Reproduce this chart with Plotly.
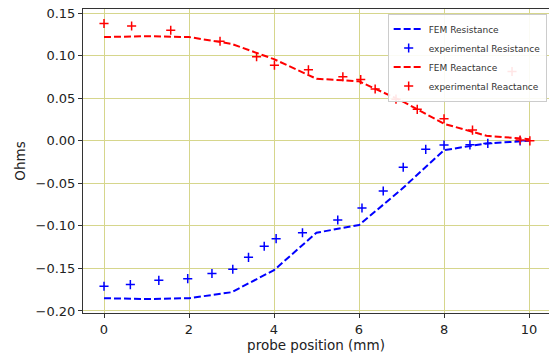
import plotly.graph_objects as go

# FEM simulation (integer positions)
fem_x = [0, 1, 2, 3, 4, 5, 6, 7, 8, 9, 10]
fem_resistance = [-0.185, -0.186, -0.185, -0.178, -0.152, -0.108, -0.099, -0.057, -0.011, -0.003, 0.0]
fem_reactance = [0.122, 0.123, 0.122, 0.114, 0.096, 0.073, 0.070, 0.047, 0.020, 0.006, 0.002]

# experimental resistance
exp_res_x = [0.0, 0.62, 1.29, 1.97, 2.54, 3.03, 3.40, 3.77, 4.05, 4.67, 5.50, 6.07, 6.57, 7.04, 7.57, 8.0, 8.61, 9.03, 9.79]
exp_res_y = [-0.171, -0.169, -0.164, -0.162, -0.156, -0.151, -0.137, -0.124, -0.115, -0.108, -0.093, -0.079, -0.059, -0.031, -0.010, -0.005, -0.0047, -0.003, 0.0]

# experimental reactance
exp_rea_x = [0.0, 0.65, 1.57, 2.73, 3.59, 4.01, 4.81, 5.62, 6.04, 6.38, 6.87, 7.37, 8.0, 8.67, 9.60, 9.79, 10.02]
exp_rea_y = [0.138, 0.135, 0.130, 0.117, 0.099, 0.089, 0.0835, 0.0753, 0.072, 0.061, 0.049, 0.037, 0.026, 0.0126, 0.0815, 0.001, 0.0]

x_ticks = [0, 2, 4, 6, 8, 10]
y_ticks = [0.15, 0.10, 0.05, 0.00, -0.05, -0.10, -0.15, -0.20]

grid_c = "rgb(214,214,140)"
font = "DejaVu Sans"

fig = go.Figure()
fig.add_trace(go.Scatter(x=fem_x, y=fem_resistance, mode="lines", name="FEM Resistance",
                         line=dict(color="#0000ff", width=2, dash="7px,3px")))
fig.add_trace(go.Scatter(x=exp_res_x, y=exp_res_y, mode="markers", name="experimental Resistance",
                         marker=dict(symbol="cross-thin", size=6.5, line=dict(color="#0000ff", width=1.5))))
fig.add_trace(go.Scatter(x=fem_x, y=fem_reactance, mode="lines", name="FEM Reactance",
                         line=dict(color="#ff0000", width=2, dash="7px,3px")))
fig.add_trace(go.Scatter(x=exp_rea_x, y=exp_rea_y, mode="markers", name="experimental Reactance",
                         marker=dict(symbol="cross-thin", size=6.5, line=dict(color="#ff0000", width=1.5))))

fig.update_layout(
    width=549, height=360,
    margin=dict(l=83, r=0, t=9, b=47),
    paper_bgcolor="white", plot_bgcolor="white",
    font=dict(family=font, size=13, color="#222"),
    showlegend=True,
    legend=dict(x=0.995, y=0.985, xanchor="right", yanchor="top",
                bgcolor="rgba(255,255,255,0.9)", bordercolor="#cccccc", borderwidth=1,
                font=dict(size=9, family=font, color="#333"),
                tracegroupgap=0, itemwidth=30),
)
fig.update_xaxes(
    range=[-0.494, 10.47], tickvals=x_ticks, ticktext=[str(v) for v in x_ticks],
    showgrid=True, gridcolor=grid_c, gridwidth=1, zeroline=False,
    showline=True, linecolor="#333", linewidth=1, mirror=True,
    ticks="outside", ticklen=4, tickcolor="#333", tickfont=dict(size=13),
    title=dict(text="probe position (mm)", font=dict(size=13.5, family=font), standoff=4),
)
fig.update_yaxes(
    range=[-0.2024, 0.155], tickvals=y_ticks, ticktext=["{:.2f}".format(v).replace("-", "\u2212") for v in y_ticks],
    showgrid=True, gridcolor=grid_c, gridwidth=1, zeroline=False,
    showline=True, linecolor="#333", linewidth=1, mirror=True,
    ticks="outside", ticklen=4, tickcolor="#333", tickfont=dict(size=13),
    title=dict(text="Ohms", font=dict(size=13.5, family=font), standoff=6),
)

fig.write_html("out.html")
